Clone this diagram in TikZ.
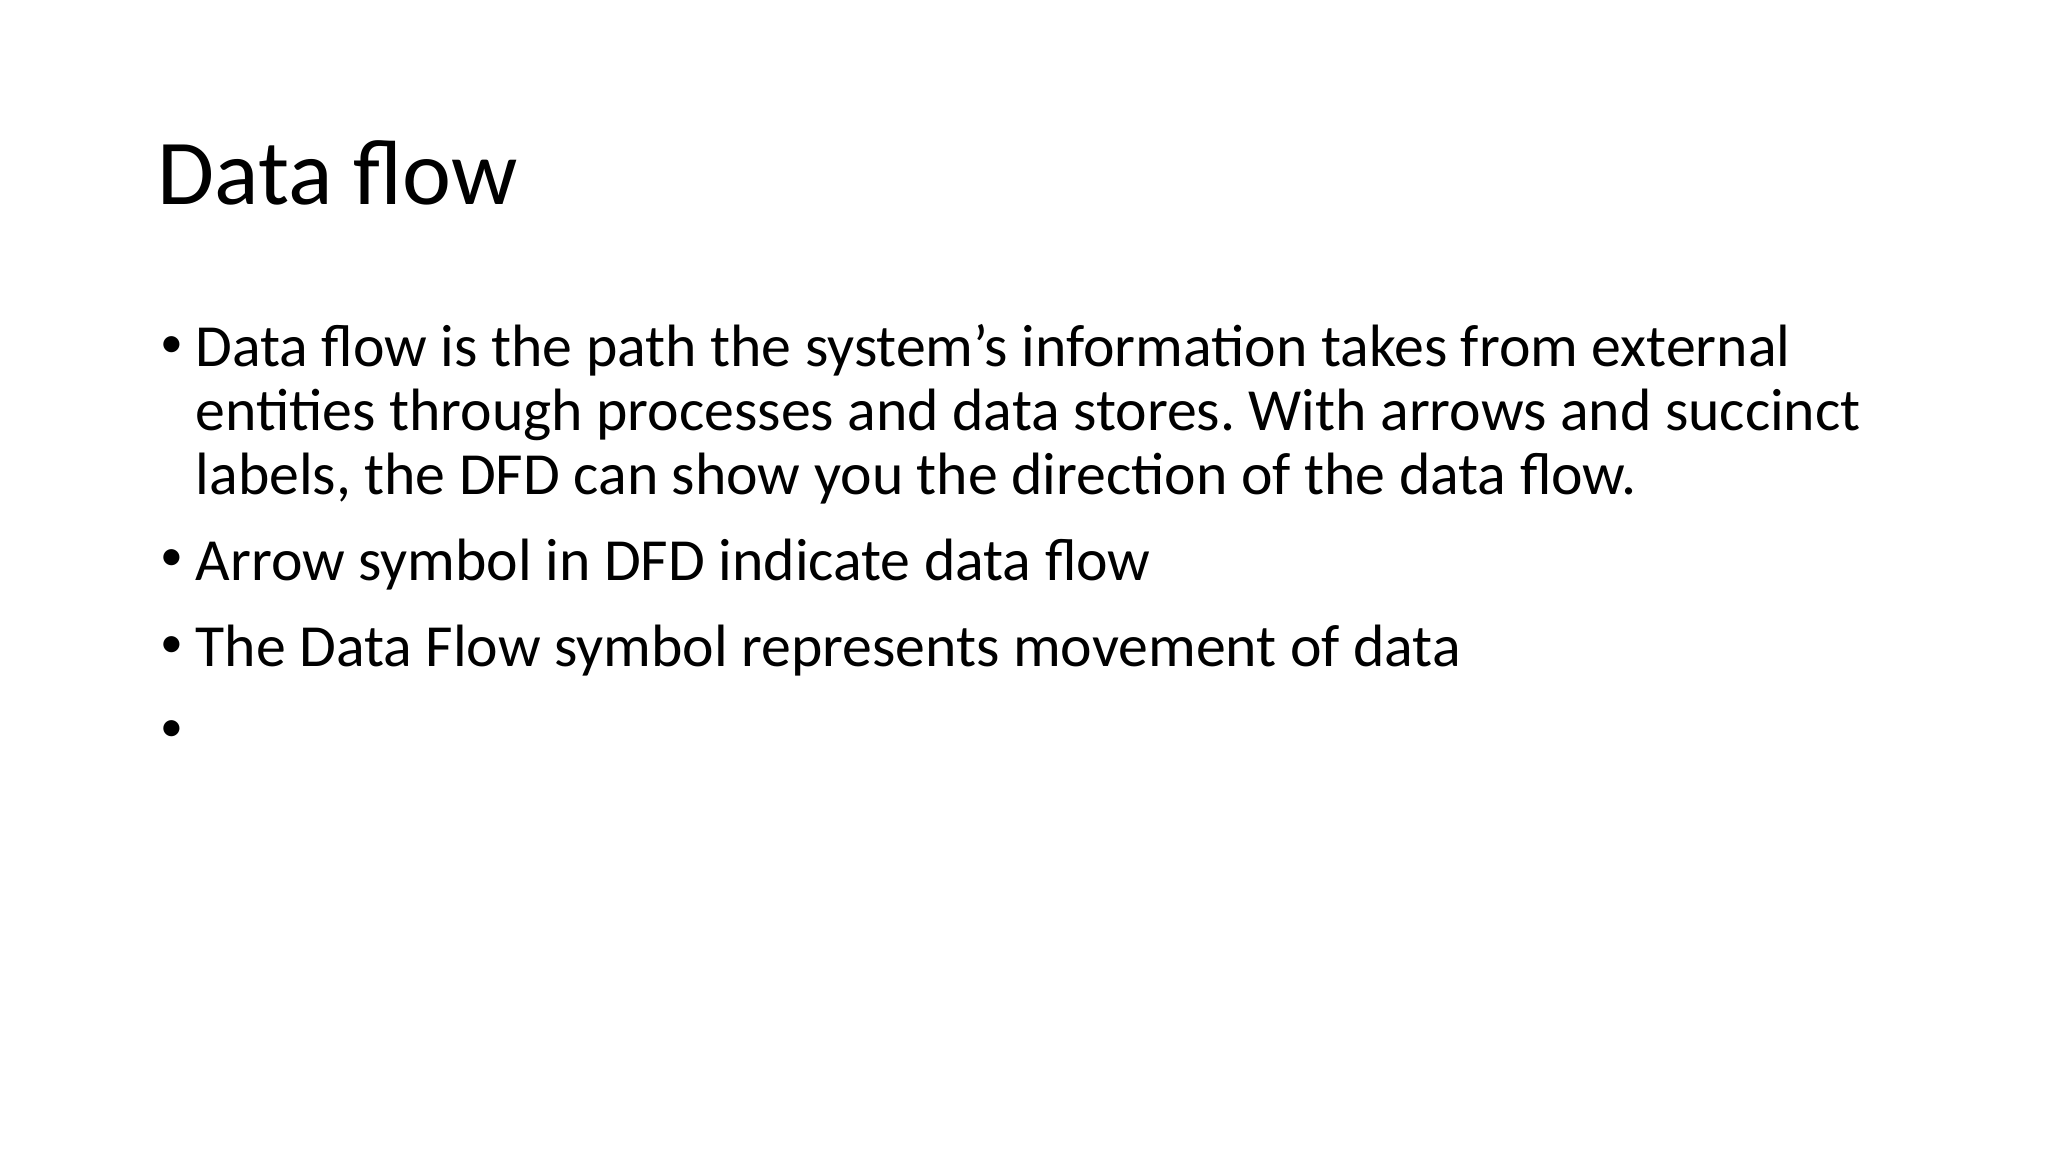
\documentclass[tikz,border=0pt]{standalone}
\usepackage{fontspec}
\setmainfont{Carlito}
\frenchspacing
\begin{document}
\begin{tikzpicture}[x=1cm,y=1cm,
  title/.style={anchor=base west,inner sep=0pt,font=\fontsize{26.4}{32}\selectfont},
  body/.style={anchor=base west,inner sep=0pt,font=\fontsize{17}{21}\selectfont},
  bul/.style={anchor=base west,inner sep=0pt,font=\fontsize{13}{16}\selectfont}]
\useasboundingbox[fill=white] (0,0) rectangle (20.48,-11.52);
\node[title] (t) at (1.57,-2.05) {Data flow};
\node[bul] (b1) at (1.60,-3.58) {•};
\node[body] (l1) at (1.95,-3.67) {Data flow is the path the system’s information takes from external};
\node[body] (l2) at (1.95,-4.31) {entities through processes and data stores. With arrows and succinct};
\node[body] (l3) at (1.95,-4.95) {labels, the DFD can show you the direction of the data flow.};
\node[bul] (b2) at (1.60,-5.71) {•};
\node[body] (l4) at (1.95,-5.80) {Arrow symbol in DFD indicate data flow};
\node[bul] (b3) at (1.60,-6.57) {•};
\node[body] (l5) at (1.95,-6.66) {The Data Flow symbol represents movement of data};
\node[bul] (b4) at (1.60,-7.41) {•};
\end{tikzpicture}
\end{document}
